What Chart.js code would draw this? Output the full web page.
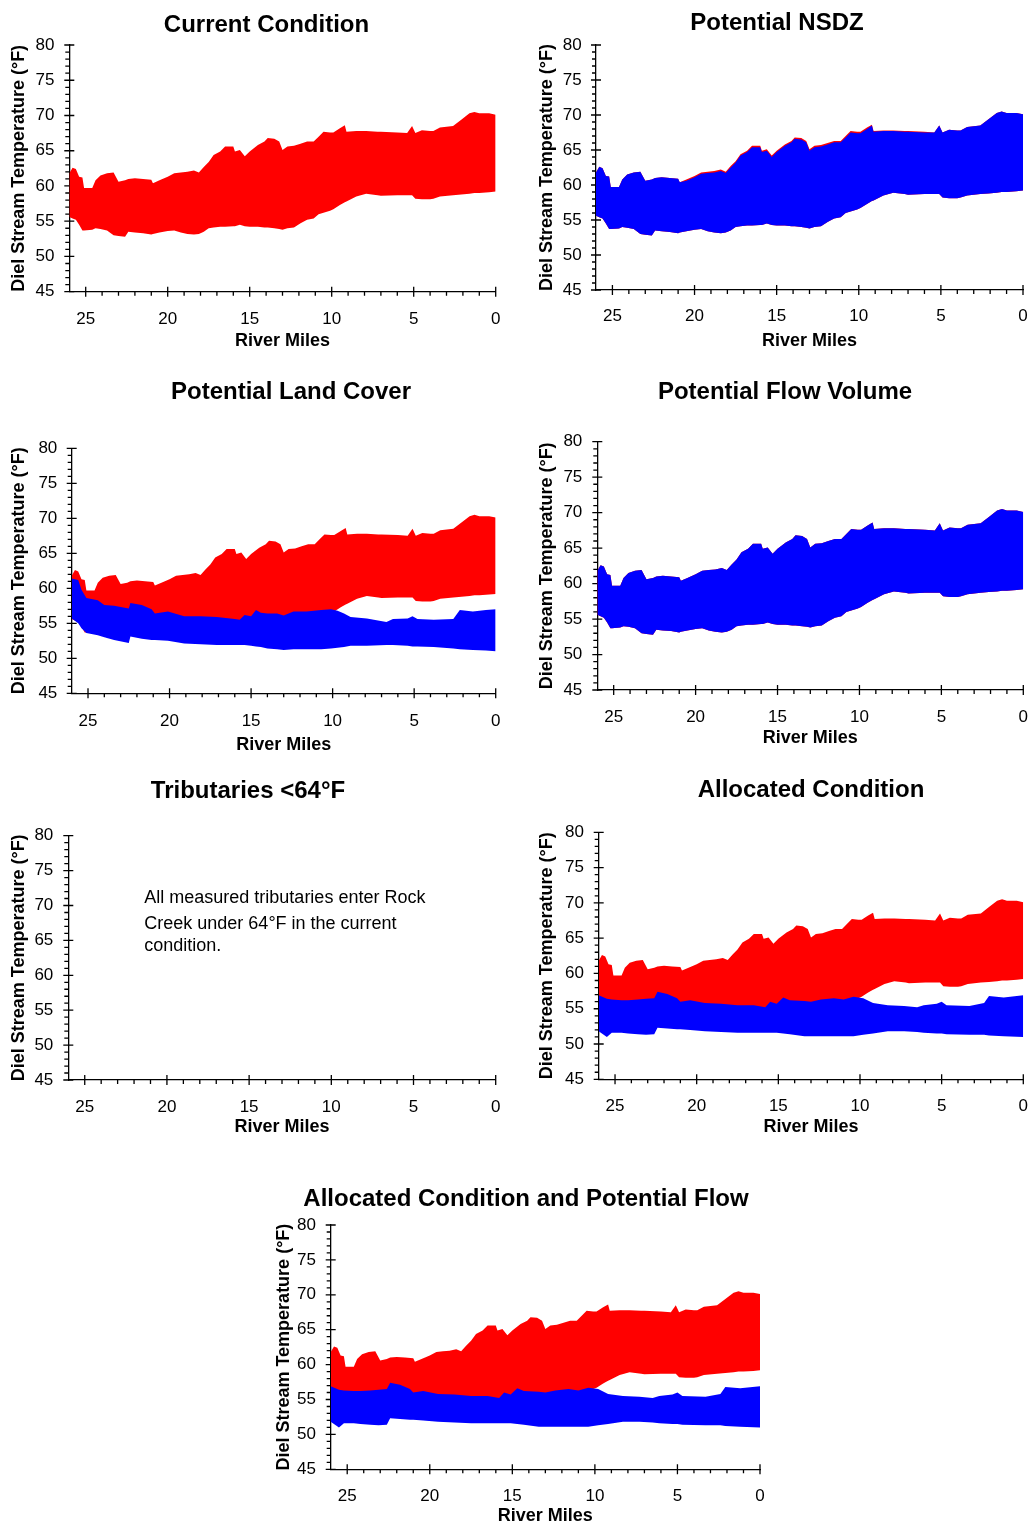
<!DOCTYPE html>
<html>
<head>
<meta charset="utf-8">
<title>Rock Creek diel stream temperature scenarios</title>
<script src="https://cdn.jsdelivr.net/npm/chart.js@4.4.1/dist/chart.umd.min.js"></script>
<style>
  html, body { margin: 0; padding: 0; background: #fff; overflow: hidden; width: 1030px; height: 1524px; }
  body { position: relative; }
  canvas { position: absolute; }
</style>
</head>
<body>
<canvas id="p1"></canvas>
<canvas id="p2"></canvas>
<canvas id="p3"></canvas>
<canvas id="p4"></canvas>
<canvas id="p5"></canvas>
<canvas id="p6"></canvas>
<canvas id="p7"></canvas>
<script>
// ---- Data: daily maximum / minimum stream temperature (°F) by river mile ----

// Current condition envelope
const curMiles = [26.0,25.8,25.6,25.4,25.2,25.1,24.6,24.4,24.1,23.7,
                  23.3,23.0,22.6,22.4,22.0,21.5,21.0,20.9,20.5,20.0,
                  19.6,19.2,18.8,18.4,18.1,17.8,17.5,17.2,16.8,16.5,
                  16.0,15.9,15.6,15.3,15.0,14.5,14.1,13.9,13.5,13.2,
                  13.0,12.7,12.3,11.9,11.5,11.1,10.8,10.5,10.1,9.9,
                  9.5,9.2,9.1,8.5,7.9,7.2,7.0,6.0,5.4,5.1,
                  4.9,4.5,4.0,3.8,3.4,2.6,2.1,1.6,1.3,1.0,
                  0.4,0.0];
const curMax = [61.8,62.6,62.4,61.3,61.2,59.7,59.7,60.8,61.5,61.8,
                61.9,60.6,60.8,61.0,61.1,61.0,60.9,60.4,60.8,61.3,
                61.8,61.9,62.0,62.2,61.9,62.7,63.4,64.4,64.9,65.6,
                65.6,64.9,65.1,64.2,64.9,65.8,66.3,66.8,66.7,66.3,
                65.1,65.6,65.7,66.0,66.3,66.3,67.0,67.7,67.6,67.6,
                68.2,68.6,67.7,67.8,67.8,67.7,67.7,67.6,67.5,68.5,
                67.5,67.9,67.8,67.8,68.3,68.5,69.4,70.3,70.5,70.3,
                70.3,70.1];
const curMin = [55.6,55.4,55.2,54.5,53.7,53.7,53.8,54.0,53.9,53.7,
                53.0,52.9,52.8,53.5,53.4,53.3,53.1,53.2,53.4,53.6,
                53.7,53.4,53.2,53.1,53.2,53.5,54.0,54.1,54.2,54.2,
                54.3,54.3,54.5,54.3,54.2,54.2,54.1,54.1,54.0,53.9,
                53.8,54.0,54.1,54.7,55.2,55.4,56.0,56.2,56.5,56.7,
                57.3,57.7,57.8,58.5,58.9,58.7,58.6,58.7,58.7,58.7,
                58.2,58.1,58.1,58.2,58.5,58.7,58.8,58.9,59.0,59.0,
                59.1,59.2];

// Potential NSDZ daily maximum (same river miles as current; minimum unchanged)
const nsdzMax = [61.8,62.6,62.4,61.3,61.2,59.7,59.7,60.8,61.5,61.8,
                 61.9,60.6,60.8,61.0,61.1,61.0,60.9,60.4,60.6,61.1,
                 61.6,61.7,61.8,62.0,61.7,62.5,63.2,64.2,64.7,65.4,
                 65.4,64.7,64.9,64.0,64.7,65.6,66.1,66.6,66.5,66.1,
                 64.9,65.4,65.5,65.8,66.1,66.1,66.8,67.5,67.4,67.4,
                 68.0,68.5,67.6,67.7,67.7,67.6,67.6,67.5,67.5,68.5,
                 67.5,67.9,67.8,67.8,68.3,68.5,69.4,70.3,70.5,70.3,
                 70.3,70.1];

// Potential land cover envelope
const lcMiles = [26.0,25.6,25.4,25.1,24.4,24.0,23.4,22.5,22.4,21.7,
                 21.1,20.9,20.1,19.1,18.1,17.1,16.0,15.7,15.4,15.0,
                 14.7,14.4,14.0,13.4,13.0,12.4,11.6,10.7,10.1,9.7,
                 9.3,8.9,7.9,6.7,6.3,5.4,5.1,4.8,3.8,2.6,
                 2.2,1.4,0.6,0.0];
const lcMax = [61.4,61.2,59.8,58.6,58.3,57.6,57.5,57.1,57.9,57.6,
               57.0,56.4,56.7,56.0,56.0,55.9,55.6,55.5,56.2,56.0,
               56.9,56.5,56.4,56.4,56.1,56.7,56.7,56.9,57.0,56.8,
               56.4,55.9,55.7,55.2,55.6,55.7,56.0,55.6,55.5,55.6,
               56.9,56.7,56.9,57.0];
const lcMin = [55.7,55.0,54.3,53.6,53.3,53.0,52.6,52.2,53.1,52.8,
               52.6,52.6,52.5,52.1,52.0,51.9,51.9,51.9,51.9,51.8,
               51.7,51.6,51.4,51.3,51.2,51.3,51.3,51.3,51.4,51.5,
               51.6,51.8,51.8,51.9,51.9,51.8,51.7,51.7,51.6,51.4,
               51.3,51.2,51.1,51.0];

// Allocated condition envelope
const acMiles = [26.0,25.5,25.2,24.6,24.2,23.6,23.1,22.6,22.4,21.8,
                 21.2,21.0,20.4,19.5,18.5,17.5,16.5,15.8,15.5,15.1,
                 14.7,14.3,13.4,13.0,12.4,11.6,11.0,10.4,9.8,9.2,
                 8.3,7.3,6.5,6.1,5.3,5.0,4.7,3.3,2.4,2.1,
                 1.2,0.0];
const acMax = [56.9,56.4,56.3,56.2,56.2,56.3,56.4,56.5,57.4,57.1,
               56.5,56.0,56.2,55.8,55.7,55.5,55.5,55.2,56.0,55.7,
               56.6,56.2,56.1,56.0,56.3,56.5,56.3,56.7,56.5,55.8,
               55.5,55.4,55.2,55.5,55.7,56.0,55.5,55.4,55.8,56.8,
               56.6,56.9];
const acMin = [51.8,51.0,51.6,51.6,51.5,51.4,51.3,51.4,52.3,52.2,
               52.1,52.1,52.0,51.8,51.7,51.6,51.6,51.6,51.6,51.6,
               51.5,51.4,51.1,51.1,51.1,51.1,51.1,51.1,51.3,51.5,
               51.8,51.8,51.7,51.6,51.5,51.5,51.4,51.3,51.3,51.2,
               51.1,51.0];

// Panel titles and notes
const panelTitles = ['Current Condition', 'Potential NSDZ', 'Potential Land Cover',
                     'Potential Flow Volume', 'Tributaries <64°F', 'Allocated Condition',
                     'Allocated Condition and Potential Flow'];
const tribNote = ['All measured tributaries enter Rock',
                  'Creek under 64°F in the current',
                  'condition.'];

// Axis ranges
const tempRange = [45, 80];
const mileRange = [0, 26];

// ---- Drawing ----
const FONT = '"Liberation Sans", Arial, Helvetica, sans-serif';
const RED = '#ff0000';
const BLUE = '#0000ff';

function band(miles, hi, lo, color, order) {
  return [
    { data: miles.map((m, i) => ({ x: m, y: hi[i] })), fill: { target: '+1' },
      backgroundColor: color, borderColor: color, borderWidth: 0, pointRadius: 0, order: order, tension: 0 },
    { data: miles.map((m, i) => ({ x: m, y: lo[i] })), fill: false,
      borderColor: color, borderWidth: 0, pointRadius: 0, order: order, tension: 0 }
  ];
}

// Axis ticks (major every 5, minor every 1), panel title and free text
const panelDecor = {
  id: 'panelDecor',
  beforeDatasetsDraw(chart) {
    const { ctx, chartArea: ca, scales: { x, y } } = chart;
    ctx.save();
    ctx.strokeStyle = '#000';
    ctx.lineWidth = 1.3;
    ctx.beginPath();
    for (let v = y.min; v <= y.max; v++) {
      const py = y.getPixelForValue(v);
      const major = v % 5 === 0;
      ctx.moveTo(ca.left - (major ? 5 : 4), py);
      ctx.lineTo(ca.left + (major ? 5 : 0), py);
    }
    for (let m = Math.ceil(x.min); m < x.max; m++) {
      const px = x.getPixelForValue(m);
      const major = m % 5 === 0;
      ctx.moveTo(px, ca.bottom - (major ? 5 : 0));
      ctx.lineTo(px, ca.bottom + (major ? 5 : 4));
    }
    ctx.stroke();
    ctx.restore();
  },
  afterDraw(chart, args, opts) {
    const { ctx } = chart;
    ctx.save();
    ctx.fillStyle = '#000';
    ctx.textBaseline = 'alphabetic';
    ctx.textAlign = 'center';
    ctx.font = 'bold 24px ' + FONT;
    ctx.fillText(opts.text, opts.x, opts.y);
    if (opts.note) {
      ctx.textAlign = 'left';
      ctx.font = '18px ' + FONT;
      opts.note.lines.forEach((t, i) => ctx.fillText(t, opts.note.x, opts.note.ys[i]));
    }
    ctx.restore();
  }
};

function panel(id, geo, title, datasets, note) {
  const cx0 = Math.floor(geo.L - 68);
  const cy0 = Math.floor(geo.titleY - 22);
  const W = Math.ceil(geo.R + 18 - cx0);
  const H = Math.ceil(geo.xTitleY + 14 - cy0);
  const xBottom = geo.xTitleY + 10.8;
  const cv = document.getElementById(id);
  cv.style.left = cx0 + 'px';
  cv.style.top = cy0 + 'px';
  cv.width = W;
  cv.height = H;

  const tickFont = { family: FONT, size: 17 };
  const titleFont = { family: FONT, size: 18, weight: 'bold' };

  new Chart(cv, {
    type: 'line',
    data: { datasets: datasets },
    options: {
      responsive: false,
      animation: false,
      devicePixelRatio: 1,
      parsing: true,
      layout: {
        autoPadding: false,
        padding: { left: 0, top: geo.T - cy0, right: cx0 + W - geo.R, bottom: cy0 + H - xBottom }
      },
      plugins: {
        legend: { display: false },
        tooltip: { enabled: false },
        title: { display: false },
        panelDecor: {
          text: title,
          x: geo.titleX - cx0,
          y: geo.titleY - cy0 + 8.6,
          note: note ? { lines: note.lines, x: note.x - cx0, ys: note.ys.map(v => v - cy0) } : null
        }
      },
      scales: {
        x: {
          type: 'linear',
          min: mileRange[0], max: mileRange[1], reverse: true,
          ticks: { stepSize: 5, includeBounds: false, autoSkip: false, maxRotation: 0,
                   padding: geo.xLabelY - geo.B - 10.2, color: '#000', font: tickFont },
          grid: { display: false, drawTicks: false },
          border: { display: true, color: '#000', width: 1.3 },
          title: { display: true, text: 'River Miles', color: '#000', font: titleFont, padding: { top: 0, bottom: 0 } },
          afterFit(s) { s.height = xBottom - geo.B; s.paddingLeft = 0; s.paddingRight = 0; }
        },
        y: {
          type: 'linear',
          min: tempRange[0], max: tempRange[1],
          ticks: { stepSize: 5, includeBounds: false, padding: geo.L - geo.yLabelRight, color: '#000', font: tickFont },
          grid: { display: false, drawTicks: false },
          border: { display: true, color: '#000', width: 1.3 },
          title: { display: true, text: 'Diel Stream Temperature (°F)', color: '#000', font: titleFont,
                   padding: { top: geo.yTitleX - cx0 - 10.8, bottom: 0 } },
          afterFit(s) { s.width = geo.L - cx0; s.paddingTop = 0; s.paddingBottom = 0; }
        }
      }
    },
    plugins: [panelDecor]
  });
}

const currentBand = () => band(curMiles, curMax, curMin, RED, 1);

panel('p1', { L: 69.3, R: 495.7, T: 45, B: 291.7, titleX: 266.5, titleY: 23.7, yTitleX: 19, yLabelRight: 54.5, xLabelY: 319, xTitleY: 341.5 },
      panelTitles[0], currentBand());

panel('p2', { L: 596, R: 1023, T: 45, B: 290, titleX: 777, titleY: 21.7, yTitleX: 547, yLabelRight: 581.7, xLabelY: 316.5, xTitleY: 341.5 },
      panelTitles[1], band(curMiles, nsdzMax, curMin, BLUE, 0).concat(currentBand()));

panel('p3', { L: 71.7, R: 495.7, T: 448.3, B: 693.3, titleX: 291, titleY: 390.5, yTitleX: 19.5, yLabelRight: 57.3, xLabelY: 721, xTitleY: 744.7 },
      panelTitles[2], band(lcMiles, lcMax, lcMin, BLUE, 0).concat(currentBand()));

panel('p4', { L: 597.3, R: 1023.3, T: 441.7, B: 690, titleX: 785, titleY: 390.5, yTitleX: 547.5, yLabelRight: 582.3, xLabelY: 717.5, xTitleY: 738 },
      panelTitles[3], band(curMiles, curMax, curMin, BLUE, 0).concat(currentBand()));

panel('p5', { L: 68.3, R: 495.7, T: 835.7, B: 1080, titleX: 248, titleY: 789, yTitleX: 19, yLabelRight: 53.3, xLabelY: 1107.5, xTitleY: 1126.7 },
      panelTitles[4], [], { lines: tribNote, x: 144.3, ys: [903, 929, 951] });

panel('p6', { L: 598.7, R: 1023.3, T: 832.3, B: 1079.3, titleX: 811, titleY: 788.3, yTitleX: 547.5, yLabelRight: 584, xLabelY: 1106.3, xTitleY: 1127.3 },
      panelTitles[5], band(acMiles, acMax, acMin, BLUE, 0).concat(currentBand()));

panel('p7', { L: 330.7, R: 760, T: 1225, B: 1469.3, titleX: 526, titleY: 1197, yTitleX: 284, yLabelRight: 316, xLabelY: 1496.3, xTitleY: 1516 },
      panelTitles[6], band(acMiles, acMax, acMin, BLUE, 0).concat(currentBand()));
</script>
</body>
</html>
